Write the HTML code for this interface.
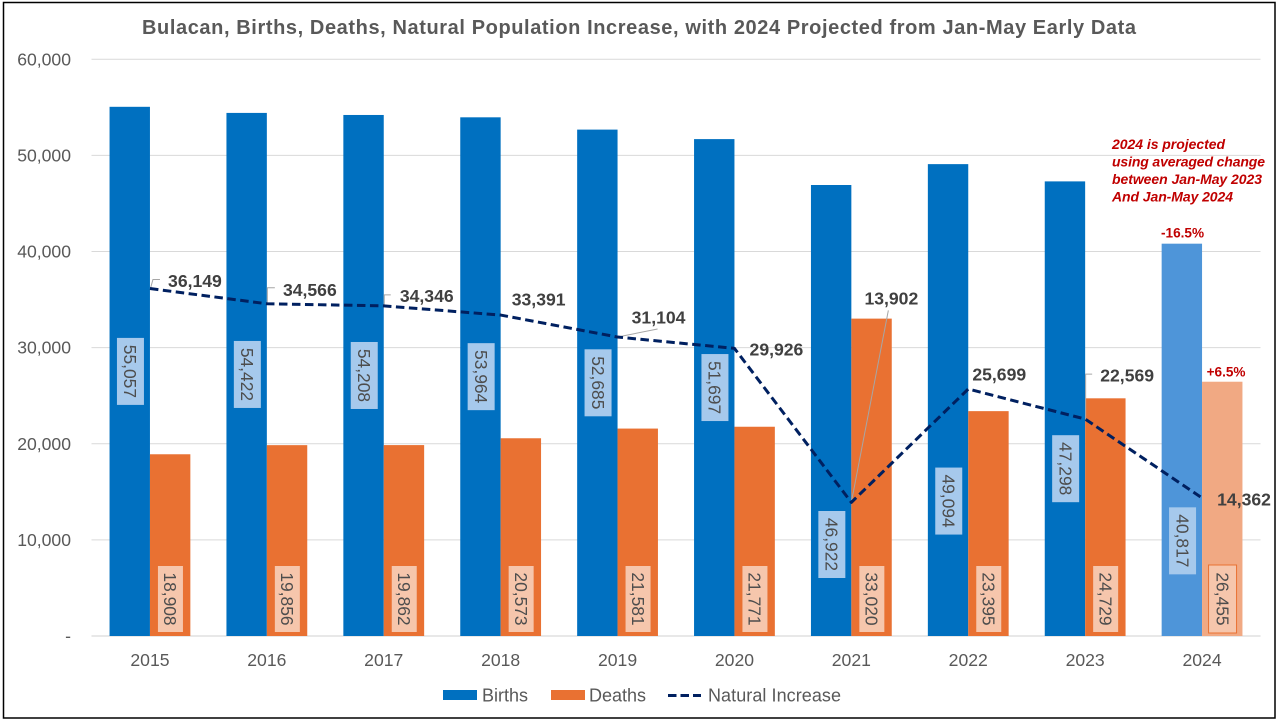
<!DOCTYPE html>
<html lang="en">
<head>
<meta charset="utf-8">
<title>Bulacan Births, Deaths, Natural Population Increase</title>
<style>
html,body{margin:0;padding:0;background:#fff;}
body{width:1280px;height:720px;overflow:hidden;}
svg{display:block;font-family:"Liberation Sans",sans-serif;}
</style>
</head>
<body>
<svg id="chart" width="1280" height="720" viewBox="0 0 1280 720" xmlns="http://www.w3.org/2000/svg">
  <rect x="3.5" y="2.5" width="1271.5" height="715.5" fill="#fff" stroke="#000" stroke-width="1.5"/>
  <text x="639" y="34" text-anchor="middle" font-size="20" font-weight="700" fill="#595959" textLength="994" lengthAdjust="spacing">Bulacan, Births, Deaths, Natural Population Increase, with 2024 Projected from Jan-May Early Data</text>
  <g id="grid"></g>
  <g id="yaxis"></g>
  <g id="xaxis"></g>
  <g id="bars"></g>
  <g id="barlabels"></g>
  <g id="leaders"></g>
  <g id="line"></g>
  <g id="linelabels"></g>
  <g id="annotations" fill="#c00000" font-weight="700">
    <g font-style="italic" font-size="14">
      <text x="1112" y="149" textLength="113" lengthAdjust="spacing">2024 is projected</text>
      <text x="1112" y="166.5" textLength="153" lengthAdjust="spacing">using averaged change</text>
      <text x="1112" y="184" textLength="150" lengthAdjust="spacing">between Jan-May 2023</text>
      <text x="1112" y="201.5" textLength="121" lengthAdjust="spacing">And Jan-May  2024</text>
    </g>
  </g>
  <g id="legend" font-size="18" fill="#595959">
    <g>
      <rect x="443" y="690" width="34" height="10" fill="#0070c0"/>
      <text x="482" y="701.5" textLength="46" lengthAdjust="spacing">Births</text>
    </g>
    <g>
      <rect x="551" y="690" width="34" height="10" fill="#e97132"/>
      <text x="589" y="701.5" textLength="57" lengthAdjust="spacing">Deaths</text>
    </g>
    <g>
      <line x1="668" y1="695.5" x2="701" y2="695.5" stroke="#002060" stroke-width="3" stroke-dasharray="8.5 4"/>
      <text x="708" y="701.5" textLength="133" lengthAdjust="spacing">Natural Increase</text>
    </g>
  </g>
</svg>
<script>
const years = [2015, 2016, 2017, 2018, 2019, 2020, 2021, 2022, 2023, 2024];
const births = [55057, 54422, 54208, 53964, 52685, 51697, 46922, 49094, 47298, 40817];
const deaths = [18908, 19856, 19862, 20573, 21581, 21771, 33020, 23395, 24729, 26455];
const naturalIncrease = [36149, 34566, 34346, 33391, 31104, 29926, 13902, 25699, 22569, 14362];
const yTicks = [0, 10000, 20000, 30000, 40000, 50000, 60000];

const NS = 'http://www.w3.org/2000/svg';
const PLOT_LEFT = 91.5, PLOT_RIGHT = 1260.5, BASE_Y = 636, TOP_Y = 59.3, Y_MAX = 60000;
const BAR_W = 40.4;
const BAND = (PLOT_RIGHT - PLOT_LEFT) / years.length;

function xCenter(i) { return PLOT_LEFT + BAND * (i + 0.5); }
function yPos(v) { return BASE_Y - (v / Y_MAX) * (BASE_Y - TOP_Y); }
function fmt(v) { return v.toLocaleString('en-US'); }
function mk(parent, tag, attrs, text) {
  const el = document.createElementNS(NS, tag);
  for (const k in attrs) el.setAttribute(k, attrs[k]);
  if (text !== undefined) el.textContent = text;
  document.getElementById(parent).appendChild(el);
  return el;
}

/* Placement of the hand-moved labels in the original, by year. */
const birthLabelShift = { 2021: 134, 2022: 101, 2023: 60, 2024: 101 };
const lineLabelPlacement = {
  2015: { dx: 45, dy: -8 },
  2016: { dx: 43, dy: -14 },
  2017: { dx: 43, dy: -10 },
  2018: { dx: 38, dy: -16 },
  2019: { dx: 41, dy: -20 },
  2020: { dx: 42, dy: 1 },
  2021: { dx: 40, dy: -204 },
  2022: { dx: 31, dy: -15 },
  2023: { dx: 42, dy: -44 },
  2024: { dx: 42, dy: 1 }
};
const leaderShapes = {
  2015: [[0.5, 0], [3, -9], [10, -9]],
  2016: [[0.5, 0], [0.5, -16], [8, -16]],
  2017: [[0.5, 0], [0.5, -11], [7, -11]],
  2019: [[0, 0], [40, -8]],
  2021: [[0, 0], [37, -192]],
  2023: [[0.5, 0], [0.5, -45], [7, -45]]
};

yTicks.forEach(function (t) {
  const y = yPos(t);
  const g = mk('grid', 'line', { x1: PLOT_LEFT, x2: PLOT_RIGHT, y1: y, y2: y, stroke: t === 0 ? '#d0d0d0' : '#d9d9d9', 'stroke-width': 1 });
  
  
  const lab = mk('yaxis', 'text', { x: 71, y: y + 6, 'text-anchor': 'end', 'font-size': 17.6, fill: '#595959' }, t === 0 ? '-' : fmt(t));
  
  
});

years.forEach(function (yr, i) {
  const cx = xCenter(i);
  const projected = yr === 2024;

  const lab = mk('xaxis', 'text', { x: cx, y: 666, 'text-anchor': 'middle', 'font-size': 17.6, fill: '#595959' }, yr);
  
  

  const bTop = yPos(births[i]);
  const b = mk('bars', 'rect', { x: cx - BAR_W, y: bTop, width: BAR_W, height: BASE_Y - bTop, fill: projected ? '#4e95d9' : '#0070c0' });
  
  

  const dTop = yPos(deaths[i]);
  const d = mk('bars', 'rect', { x: cx, y: dTop, width: BAR_W, height: BASE_Y - dTop, fill: projected ? '#f1a983' : '#e97132' });
  
  

  /* Births value label: centred in bar, unless moved in the original */
  const bCy = (bTop + BASE_Y) / 2 + (birthLabelShift[yr] || 0);
  const bCx = cx - 19.5;
  const bBox = mk('barlabels', 'rect', { x: bCx - 13.5, y: bCy - 33.5, width: 27, height: 67, fill: '#a6c9ec' });
  
  
  const bTxt = mk('barlabels', 'text', { x: bCx, y: bCy, dy: '0.36em', 'text-anchor': 'middle', 'font-size': 17.4, fill: '#4d4d4d', transform: 'rotate(90 ' + bCx + ' ' + bCy + ')' }, fmt(births[i]));
  
  

  /* Deaths value label: inside base of bar */
  const dCy = 599;
  const dCx = cx + 20.5;
  const dBox = mk('barlabels', 'rect', projected
    ? { x: dCx - 14, y: dCy - 34, width: 28, height: 68, fill: '#f6c6ac', stroke: '#e97132', 'stroke-width': 1 }
    : { x: dCx - 12.5, y: dCy - 33, width: 25, height: 66, fill: '#f6c6ac' });
  
  
  const dTxt = mk('barlabels', 'text', { x: dCx, y: dCy, dy: '0.36em', 'text-anchor': 'middle', 'font-size': 17.4, fill: '#4d4d4d', transform: 'rotate(90 ' + dCx + ' ' + dCy + ')' }, fmt(deaths[i]));
  
  

  /* Leader lines */
  const px = cx, py = yPos(naturalIncrease[i]);
  if (leaderShapes[yr]) {
    const pts = leaderShapes[yr].map(function (p) { return (px + p[0]) + ',' + (py + p[1]); }).join(' ');
    const l = mk('leaders', 'polyline', { points: pts, fill: 'none', stroke: '#a6a6a6', 'stroke-width': 1 });
    
    
  }

  /* Line labels */
  const pl = lineLabelPlacement[yr];
  const t = mk('linelabels', 'text', { x: px + pl.dx, y: py + pl.dy, dy: '0.36em', 'text-anchor': 'middle', 'font-size': 17.6, 'font-weight': 700, fill: '#404040' }, fmt(naturalIncrease[i]));
  
  
});

const linePoints = naturalIncrease.map(function (v, i) { return xCenter(i) + ',' + yPos(v); }).join(' ');
const series = mk('line', 'polyline', { points: linePoints, fill: 'none', stroke: '#002060', 'stroke-width': 3, 'stroke-dasharray': '8.5 4.5', 'stroke-linejoin': 'round' });



const lastIdx = years.length - 1;
const birthChange = mk('annotations', 'text', { x: xCenter(lastIdx) - 19.5, y: yPos(births[lastIdx]) - 6, 'text-anchor': 'middle', 'font-size': 13.6 }, '-16.5%');


const deathChange = mk('annotations', 'text', { x: xCenter(lastIdx) + 24, y: yPos(deaths[lastIdx]) - 5, 'text-anchor': 'middle', 'font-size': 13.6 }, '+6.5%');


</script>
</body>
</html>
